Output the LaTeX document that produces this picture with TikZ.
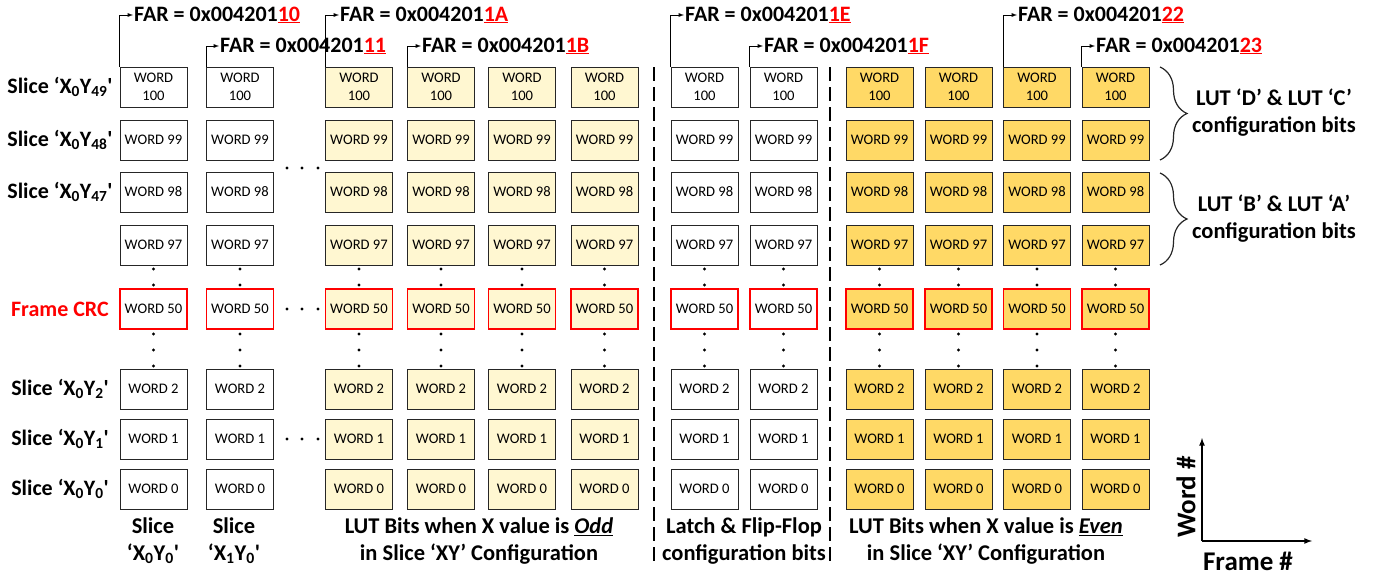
\documentclass[tikz,border=0pt]{standalone}
\usepackage{fontspec}
\setmainfont{Carlito}
\usepackage{tikz}
\usetikzlibrary{decorations.pathreplacing}

\definecolor{oddfill}{HTML}{FFF7D1}
\definecolor{evenfill}{HTML}{FFD966}
\definecolor{edge}{HTML}{262626}
\newcommand{\farbits}[1]{\textcolor{red}{\underline{#1}}}
\newcommand{\sq}{\textquotesingle}

\tikzset{
  cell/.style={draw=edge, line width=1pt, minimum width=67pt, minimum height=40pt,
    inner sep=0pt, align=center, font=\fontsize{14.6}{18}\selectfont},
  plaincell/.style={cell, fill=white},
  oddcell/.style={cell, fill=oddfill},
  evencell/.style={cell, fill=evenfill},
  lbl/.style={font=\fontsize{22.5}{27}\selectfont\bfseries, align=center},
  rowlbl/.style={font=\fontsize{22}{27}\selectfont\bfseries},
  farlbl/.style={anchor=west, inner sep=1pt, font=\fontsize{22}{24}\selectfont\bfseries},
  sepline/.style={line width=1.5pt, dash pattern=on 14pt off 6pt},
  bracket/.style={decorate, decoration={brace, amplitude=27pt}, line width=1.2pt, draw=edge}
}

\begin{document}
\begin{tikzpicture}[x=1pt, y=-1pt]
\useasboundingbox (0,0) rectangle (1382,579);

% word boxes, one column per frame
\foreach \x/\s [count=\i] in {153.5/plaincell, 240/plaincell, 359/oddcell, 441/oddcell,
    522/oddcell, 604.5/oddcell, 704.5/plaincell, 783.5/plaincell,
    879.5/evencell, 958.5/evencell, 1037/evencell, 1115.5/evencell}
  \foreach \y/\w/\bc/\lw [count=\j] in {87/{WORD\\100}/edge/1pt, 140/WORD 99/edge/1pt,
      192/WORD 98/edge/1pt, 245/WORD 97/edge/1pt, 309/WORD 50/red/1.15pt,
      389/WORD 2/edge/1pt, 439/WORD 1/edge/1pt, 489/WORD 0/edge/1pt}
    \node [\s, draw=\bc, line width=\lw] (c\i r\j) at (\x,\y) {\w};

% vertical dots
\foreach \x in {153.5,240,359,441,522,604.5,704.5,783.5,879.5,958.5,1037,1115.5}
  \foreach \y in {269,285,334,350,366}
    \fill (\x,\y) circle (1.7pt);

% horizontal dots
\foreach \y in {168,309,439}
  \foreach \x in {287,302,318}
    \fill (\x,\y) circle (1.7pt);

% row labels
\node [rowlbl] (s49) at (60,87) {Slice ‘X\textsubscript{0}Y\textsubscript{49}\sq};
\node [rowlbl] (s48) at (60,140) {Slice ‘X\textsubscript{0}Y\textsubscript{48}\sq};
\node [rowlbl] (s47) at (60,192) {Slice ‘X\textsubscript{0}Y\textsubscript{47}\sq};
\node [rowlbl, text=red] (crc) at (60,309) {Frame CRC};
\node [rowlbl] (s2) at (60,389) {Slice ‘X\textsubscript{0}Y\textsubscript{2}\sq};
\node [rowlbl] (s1) at (60,439) {Slice ‘X\textsubscript{0}Y\textsubscript{1}\sq};
\node [rowlbl] (s0) at (60,489) {Slice ‘X\textsubscript{0}Y\textsubscript{0}\sq};

% frame addresses
\node [farlbl] (far10) at (133,15) {FAR = 0x004201\farbits{10}};
\node [farlbl] (far11) at (219,46) {FAR = 0x004201\farbits{11}};
\node [farlbl] (far1A) at (339,15) {FAR = 0x004201\farbits{1A}};
\node [farlbl] (far1B) at (421,46) {FAR = 0x004201\farbits{1B}};
\node [farlbl] (far1E) at (684,15) {FAR = 0x004201\farbits{1E}};
\node [farlbl] (far1F) at (763,46) {FAR = 0x004201\farbits{1F}};
\node [farlbl] (far22) at (1017,15) {FAR = 0x004201\farbits{22}};
\node [farlbl] (far23) at (1095,46) {FAR = 0x004201\farbits{23}};
\draw [-latex, line width=0.9pt] (c1r1.north west) |- (far10.west);
\draw [-latex, line width=0.9pt] (c2r1.north west) |- (far11.west);
\draw [-latex, line width=0.9pt] (c3r1.north west) |- (far1A.west);
\draw [-latex, line width=0.9pt] (c4r1.north west) |- (far1B.west);
\draw [-latex, line width=0.9pt] (c7r1.north west) |- (far1E.west);
\draw [-latex, line width=0.9pt] (c8r1.north west) |- (far1F.west);
\draw [-latex, line width=0.9pt] (c11r1.north west) |- (far22.west);
\draw [-latex, line width=0.9pt] (c12r1.north west) |- (far23.west);

% separators
\coordinate (sepAtop) at (654,67);
\coordinate (sepAbot) at (654,565);
\coordinate (sepBtop) at (830,67);
\coordinate (sepBbot) at (830,565);
\draw [sepline] (sepAtop) -- (sepAbot);
\draw [sepline] (sepBtop) -- (sepBbot);

% column groups
\node [lbl] (bx0) at (153,541) {Slice\\‘X\textsubscript{0}Y\textsubscript{0}\sq};
\node [lbl] (bx1) at (234,541) {Slice\\‘X\textsubscript{1}Y\textsubscript{0}\sq};
\node [lbl] (bodd) at (479,541) {LUT Bits when X value is \underline{\textit{Odd}}\\in Slice ‘XY’ Configuration};
\node [lbl] (blatch) at (744,541) {Latch \& Flip-Flop\\configuration bits};
\node [lbl] (beven) at (986,541) {LUT Bits when X value is \underline{\textit{Even}}\\in Slice ‘XY’ Configuration};

% LUT braces
\coordinate (dcTop) at (1160,67);
\coordinate (dcBot) at (1160,160);
\coordinate (baTop) at (1160,173);
\coordinate (baBot) at (1160,265);
\draw [bracket] (dcTop) -- (dcBot);
\draw [bracket] (baTop) -- (baBot);
\node [lbl] (lutdc) at (1274,113) {LUT ‘D’ \& LUT ‘C’\\configuration bits};
\node [lbl] (lutba) at (1274,219) {LUT ‘B’ \& LUT ‘A’\\configuration bits};

% axes
\coordinate (org) at (1202,541);
\coordinate (wtip) at (1202,438);
\coordinate (ftip) at (1312,541);
\draw [-latex, line width=1.6pt] (org) -- (wtip);
\draw [-latex, line width=1.6pt] (org) -- (ftip);
\node [lbl, font=\fontsize{27}{30}\selectfont\bfseries, rotate=90] (wordax) at (1186,497) {Word \#};
\node [lbl, font=\fontsize{27}{30}\selectfont\bfseries] (frameax) at (1248,561) {Frame \#};
\end{tikzpicture}
\end{document}
